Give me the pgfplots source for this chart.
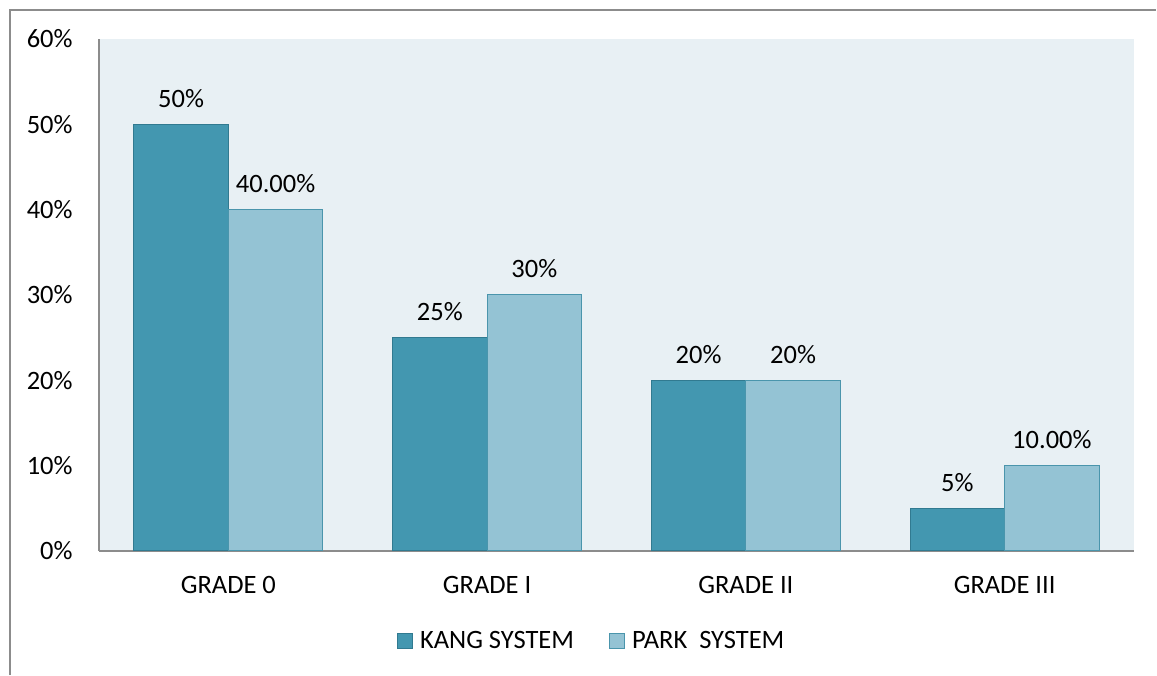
\documentclass[border=0pt]{standalone}
\usepackage{pgfplots}
\pgfplotsset{compat=1.18}
\usepackage{pgfplotstable}
\usepackage{fontspec}
\setmainfont{Carlito}

\definecolor{kang}{HTML}{4397B0}
\definecolor{kangedge}{HTML}{317A90}
\definecolor{park}{HTML}{94C3D4}
\definecolor{parkedge}{HTML}{4A95AC}
\definecolor{plotbg}{HTML}{E8F0F4}
\definecolor{framegray}{HTML}{8C8C8C}

% grade, value, printed label
\pgfplotstableread{
x  y   lbl
0  50  50\%
1  25  25\%
2  20  20\%
3  5   5\%
}\kangdata
\pgfplotstableread{
x  y   lbl
0  40  40.00\%
1  30  30\%
2  20  20\%
3  10  10.00\%
}\parkdata

\begin{document}
\begin{tikzpicture}[font=\fontsize{13.25pt}{16pt}\selectfont]
\path[use as bounding box] (0,0) rectangle (578.5pt,337.5pt);
% outer frame (top and left edges)
\draw[framegray, line width=1pt] (5pt,0) -- (5pt,332.5pt) -- (578pt,332.5pt);
\begin{axis}[
  at={(49.5pt,62pt)}, anchor=south west,
  scale only axis,
  width=517.5pt, height=256pt,
  ymin=0, ymax=60,
  xmin=-0.5, xmax=3.5,
  ybar=0pt,
  bar width=47.25pt,
  axis x line*=bottom,
  axis y line*=left,
  axis line style={framegray, line width=0.75pt, -},
  axis background/.style={fill=plotbg},
  major tick length=0pt,
  xtick={0,1,2,3},
  xticklabels={GRADE 0, GRADE I, GRADE II, GRADE III},
  ytick={0,10,20,30,40,50,60},
  yticklabels={0\%,10\%,20\%,30\%,40\%,50\%,60\%},
  xticklabel style={anchor=base, yshift=-21.5pt},
  yticklabel style={anchor=east, inner sep=0pt, xshift=-13pt},
  nodes near coords,
  point meta=explicit symbolic,
  every node near coord/.append style={anchor=base, yshift=8.5pt, inner sep=0pt, text=black},
  legend style={at={(0.477,-0.176)}, anchor=center, draw=none, fill=none,
    legend columns=2, /tikz/every even column/.append style={column sep=15.5pt}},
  legend image code/.code={\draw[#1] (0pt,-3.75pt) rectangle (7.5pt,3.75pt); \path (9pt,0pt);},
]
\addplot[fill=kang, draw=kangedge, line width=0.5pt] table[x=x, y=y, meta=lbl] {\kangdata};
\addplot[fill=park, draw=parkedge, line width=0.5pt] table[x=x, y=y, meta=lbl] {\parkdata};
\legend{KANG SYSTEM, PARK\ \ SYSTEM}
\end{axis}
\end{tikzpicture}
\end{document}
